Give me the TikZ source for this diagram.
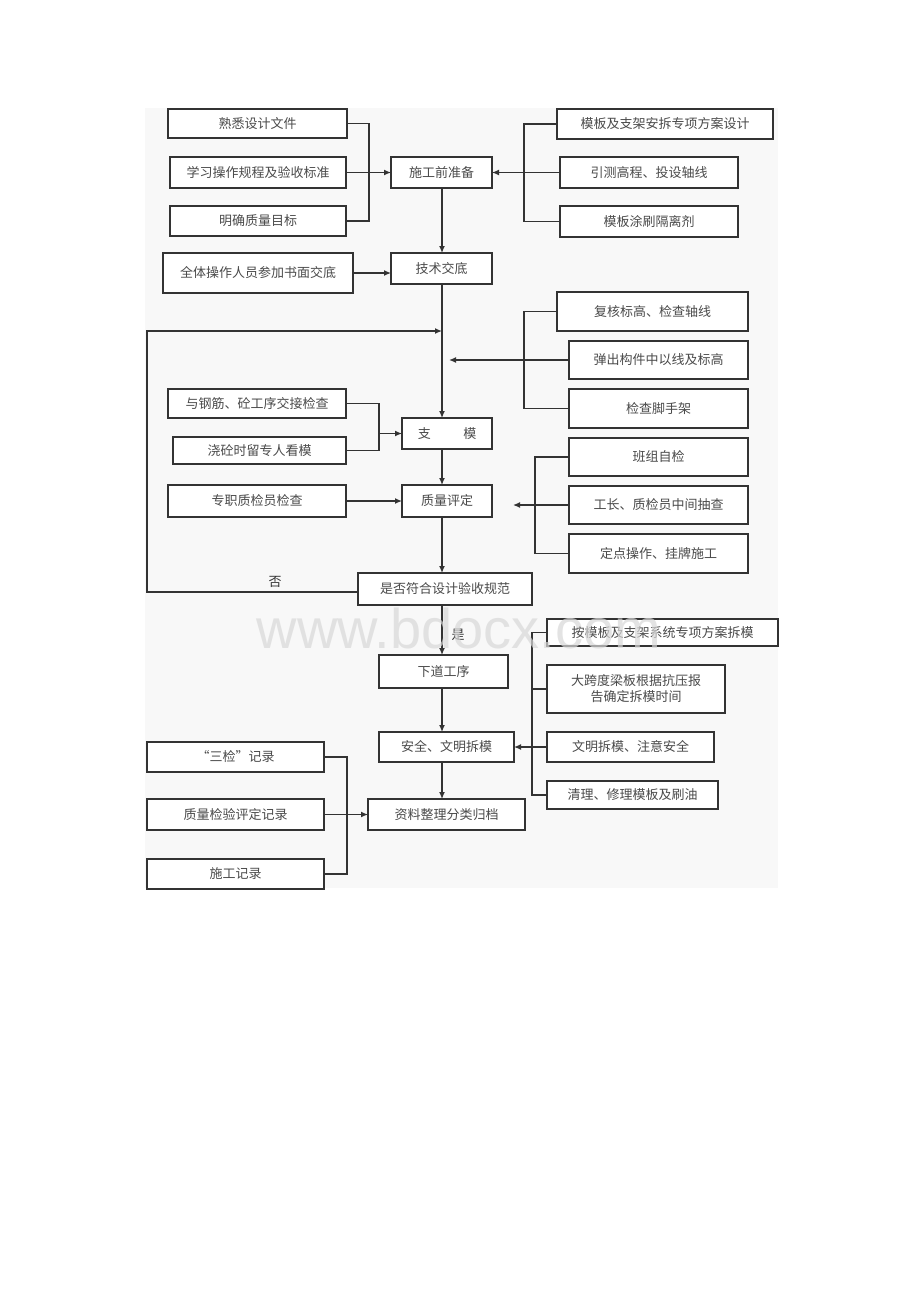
\documentclass[tikz,border=0pt]{standalone}
\usepackage{fontspec}
\newfontfamily\cjk{Noto Sans CJK SC}
\setmainfont{Liberation Sans}
\usetikzlibrary{arrows.meta,calc}
\definecolor{ink}{HTML}{333333}
\definecolor{txt}{HTML}{4A4A4A}
\definecolor{bgc}{HTML}{F8F8F8}
\definecolor{wm}{HTML}{D8D8D8}
\tikzset{
  box/.style={draw=ink,line width=1.4pt,fill=white,inner sep=0pt,outer sep=0pt,
    font=\cjk\fontsize{13}{16}\selectfont,text=txt,align=center},
  ln/.style={draw=ink,line width=1.2pt},
  arr/.style={ln,line width=1.3pt,-{Latex[length=7pt,width=6pt]}},
  lbl/.style={font=\cjk\fontsize{13}{15}\selectfont,text=ink,inner sep=0pt}
}
\newcommand\mybox[6]{\node[box,minimum width={(#4-#2)*1pt},minimum height={(#5-#3)*1pt}] (#1) at ({(#2+#4)/2},{(#3+#5)/2}) {#6};}
\begin{document}
\begin{tikzpicture}[x=1pt,y=-1pt]
\useasboundingbox (0,0) rectangle (920,1302);
\fill[white] (0,0) rectangle (920,1302);
\fill[bgc] (145,108) rectangle (778,888);

% boxes
\mybox{a1}{168}{109}{347}{138}{熟悉设计文件}
\mybox{a2}{170}{157}{346}{188}{学习操作规程及验收标准}
\mybox{a3}{170}{206}{346}{236}{明确质量目标}
\mybox{p1}{391}{157}{492}{188}{施工前准备}
\mybox{b1}{557}{109}{773}{139}{模板及支架安拆专项方案设计}
\mybox{b2}{560}{157}{738}{188}{引测高程、投设轴线}
\mybox{b3}{560}{206}{738}{237}{模板涂刷隔离剂}
\mybox{c1}{163}{253}{353}{293}{全体操作人员参加书面交底}
\mybox{p2}{391}{253}{492}{284}{技术交底}
\mybox{d1}{557}{292}{748}{331}{复核标高、检查轴线}
\mybox{d2}{569}{341}{748}{379}{弹出构件中以线及标高}
\mybox{d3}{569}{389}{748}{428}{检查脚手架}
\mybox{e1}{168}{389}{346}{418}{与钢筋、砼工序交接检查}
\mybox{e2}{173}{437}{346}{464}{浇砼时留专人看模}
\mybox{p3}{402}{418}{492}{449}{支\hspace{2.5em}模}
\mybox{f1}{168}{485}{346}{517}{专职质检员检查}
\mybox{p4}{402}{485}{492}{517}{质量评定}
\mybox{g1}{569}{438}{748}{476}{班组自检}
\mybox{g2}{569}{486}{748}{524}{工长、质检员中间抽查}
\mybox{g3}{569}{534}{748}{573}{定点操作、挂牌施工}
\mybox{p5}{358}{573}{532}{605}{是否符合设计验收规范}
\mybox{p6}{379}{655}{508}{688}{下道工序}
\mybox{h1}{547}{619}{778}{646}{按模板及支架系统专项方案拆模}
\mybox{h2}{547}{665}{725}{713}{大跨度梁板根据抗压报\\告确定拆模时间}
\mybox{h3}{547}{732}{714}{762}{文明拆模、注意安全}
\mybox{h4}{547}{781}{718}{809}{清理、修理模板及刷油}
\mybox{p7}{379}{732}{514}{762}{安全、文明拆模}
\mybox{p8}{368}{799}{525}{830}{资料整理分类归档}
\mybox{i1}{147}{742}{324}{772}{“三检”记录}
\mybox{i2}{147}{799}{324}{830}{质量检验评定记录}
\mybox{i3}{147}{859}{324}{889}{施工记录}

% helper coordinates
\coordinate (mx) at (442,0);
\coordinate (j1) at (442,331);
\coordinate (j2) at (449,360);
\coordinate (j3) at (513,505);
\coordinate (ja) at (369,172.5);
\coordinate (jb) at (524,172.5);
\coordinate (jd) at (524,360);
\coordinate (je) at (379,433.5);
\coordinate (jg) at (535,505);
\coordinate (jh) at (532,747);
\coordinate (ji) at (347,814.5);
\coordinate (lp) at (147,331);

% top-left bracket
\draw[ln] (a1.east) -| (ja) |- (a3.east);
\draw[arr] (a2.east) -- (a2.east -| p1.west);
% top-right bracket
\draw[ln] (b1.west) -| (jb) |- (b3.west);
\draw[arr] (b2.west) -- (b2.west -| p1.east);
% main chain
\draw[arr] (p1.south -| mx) -- (p2.north -| mx);
\draw[arr] (c1.east) -- (c1.east -| p2.west);
\draw[arr] (p2.south -| mx) -- (p3.north -| mx);
% loop back (no)
\draw[arr] ([yshift=-3pt]p5.west) -| (lp) -- (j1);
% right bracket d
\draw[ln] (d1.west) -| (jd) |- (d3.west);
\draw[arr] (d2.west) -- (j2);
% left bracket e
\draw[ln] (e1.east) -| (je) |- (e2.east);
\draw[arr] (je) -- (je -| p3.west);
\draw[arr] (f1.east) -- (f1.east -| p4.west);
\draw[arr] (p3.south -| mx) -- (p4.north -| mx);
\draw[arr] (p4.south -| mx) -- (p5.north -| mx);
% right bracket g
\draw[ln] (g1.west) -| (jg) |- (g3.west);
\draw[arr] (g2.west) -- (j3);
% lower chain
\draw[arr] (p5.south -| mx) -- (p6.north -| mx);
\node[lbl] (yes) at (458,635) {是};
\node[lbl] (no) at (275,582) {否};
\draw[arr] (p6.south -| mx) -- (p7.north -| mx);
\draw[arr] (p7.south -| mx) -- (p8.north -| mx);
% right bracket h
\draw[ln] (h1.west) -| (jh) |- (h4.west);
\draw[ln] (h2.west) -- (h2.west -| jh);
\draw[arr] (h3.west) -- (h3.west -| p7.east);
% left bracket i
\draw[ln] (i1.east) -| (ji) |- (i3.east);
\draw[arr] (i2.east) -- (i2.east -| p8.west);

% watermark
\node[anchor=base,text=wm,opacity=0.7,inner sep=0pt,font=\fontsize{56}{60}\selectfont] (wmk) at (459,648) {www.bdocx.com};
\end{tikzpicture}
\end{document}
